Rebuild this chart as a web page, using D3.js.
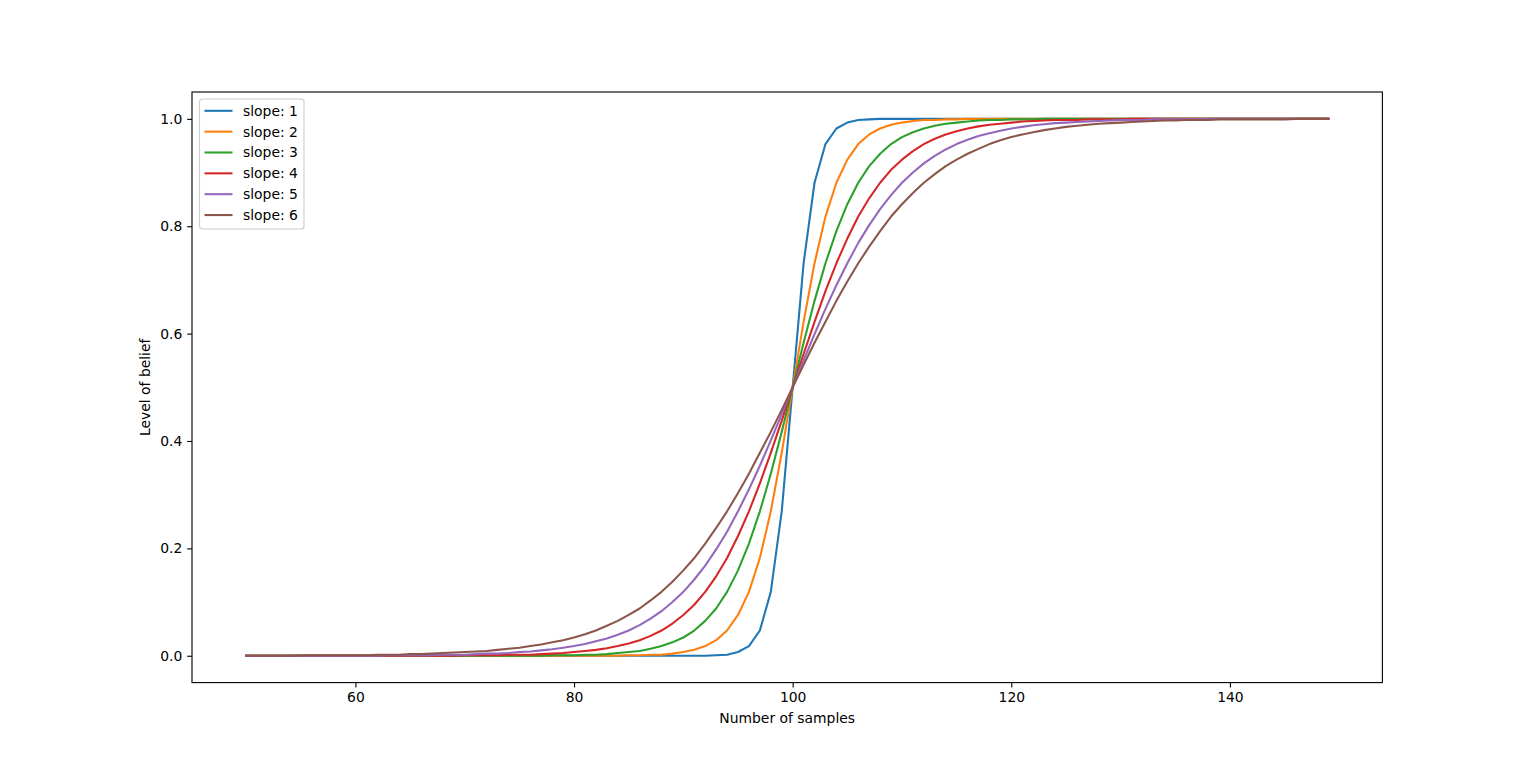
<!DOCTYPE html>
<html>
<head>
<meta charset="utf-8">
<script src="https://cdn.jsdelivr.net/npm/d3@7"></script>
<style>
  body { margin: 0; background: #fff; }
  svg { display: block; font-family: "DejaVu Sans", sans-serif; }
  .tick text { font-size: 13.9px; fill: #000; }
</style>
</head>
<body>
<div id="chart"></div>
<script>
// Number of samples (x)
const samples = [
   50,  51,  52,  53,  54,  55,  56,  57,  58,  59,
   60,  61,  62,  63,  64,  65,  66,  67,  68,  69,
   70,  71,  72,  73,  74,  75,  76,  77,  78,  79,
   80,  81,  82,  83,  84,  85,  86,  87,  88,  89,
   90,  91,  92,  93,  94,  95,  96,  97,  98,  99,
  100, 101, 102, 103, 104, 105, 106, 107, 108, 109,
  110, 111, 112, 113, 114, 115, 116, 117, 118, 119,
  120, 121, 122, 123, 124, 125, 126, 127, 128, 129,
  130, 131, 132, 133, 134, 135, 136, 137, 138, 139,
  140, 141, 142, 143, 144, 145, 146, 147, 148, 149
];

const slopes = ['slope: 1', 'slope: 2', 'slope: 3', 'slope: 4', 'slope: 5', 'slope: 6'];

// Level of belief per slope
const slope1 = [
  0, 0, 0, 0, 0, 0, 0, 0, 0, 0,
  0, 0, 0, 0, 0, 0, 0, 0, 0, 0,
  0, 0, 0, 0, 0, 0, 0, 0, 0, 0,
  0, 0, 0, 0, 0, 0, 0, 0, 0, 0,
  0, 0, 0, .001, .002, .007, .018, .047, .119, .269,
  .5, .731, .881, .953, .982, .993, .998, .999, 1, 1,
  1, 1, 1, 1, 1, 1, 1, 1, 1, 1,
  1, 1, 1, 1, 1, 1, 1, 1, 1, 1,
  1, 1, 1, 1, 1, 1, 1, 1, 1, 1,
  1, 1, 1, 1, 1, 1, 1, 1, 1, 1
];
const slope2 = [
  0, 0, 0, 0, 0, 0, 0, 0, 0, 0,
  0, 0, 0, 0, 0, 0, 0, 0, 0, 0,
  0, 0, 0, 0, 0, 0, 0, 0, 0, 0,
  0, 0, 0, 0, 0, .001, .001, .002, .002, .004,
  .007, .011, .018, .029, .047, .076, .119, .182, .269, .378,
  .5, .622, .731, .818, .881, .924, .953, .971, .982, .989,
  .993, .996, .998, .998, .999, .999, 1, 1, 1, 1,
  1, 1, 1, 1, 1, 1, 1, 1, 1, 1,
  1, 1, 1, 1, 1, 1, 1, 1, 1, 1,
  1, 1, 1, 1, 1, 1, 1, 1, 1, 1
];
const slope3 = [
  0, 0, 0, 0, 0, 0, 0, 0, 0, 0,
  0, 0, 0, 0, 0, 0, 0, 0, 0, 0,
  0, 0, 0, 0, 0, 0, 0, 0, .001, .001,
  .001, .002, .002, .003, .005, .007, .009, .013, .018, .025,
  .034, .047, .065, .088, .119, .159, .209, .269, .339, .417,
  .5, .583, .661, .731, .791, .841, .881, .912, .935, .953,
  .966, .975, .982, .987, .991, .993, .995, .997, .998, .998,
  .999, .999, .999, 1, 1, 1, 1, 1, 1, 1,
  1, 1, 1, 1, 1, 1, 1, 1, 1, 1,
  1, 1, 1, 1, 1, 1, 1, 1, 1, 1
];
const slope4 = [
  0, 0, 0, 0, 0, 0, 0, 0, 0, 0,
  0, 0, 0, 0, 0, 0, 0, 0, 0, 0,
  .001, .001, .001, .001, .002, .002, .002, .003, .004, .005,
  .007, .009, .011, .014, .018, .023, .029, .037, .047, .060,
  .076, .095, .119, .148, .182, .223, .269, .321, .378, .438,
  .5, .562, .622, .679, .731, .777, .818, .852, .881, .905,
  .924, .940, .953, .963, .971, .977, .982, .986, .989, .991,
  .993, .995, .996, .997, .998, .998, .998, .999, .999, .999,
  .999, 1, 1, 1, 1, 1, 1, 1, 1, 1,
  1, 1, 1, 1, 1, 1, 1, 1, 1, 1
];
const slope5 = [
  0, 0, 0, 0, 0, 0, 0, 0, 0, 0,
  0, 0, 0, .001, .001, .001, .001, .001, .002, .002,
  .002, .003, .004, .004, .005, .007, .008, .010, .012, .015,
  .018, .022, .027, .032, .039, .047, .057, .069, .083, .100,
  .119, .142, .168, .198, .231, .269, .310, .354, .401, .450,
  .5, .550, .599, .646, .690, .731, .769, .802, .832, .858,
  .881, .900, .917, .931, .943, .953, .961, .968, .973, .978,
  .982, .985, .988, .990, .992, .993, .994, .995, .996, .997,
  .998, .998, .998, .999, .999, .999, .999, .999, 1, 1,
  1, 1, 1, 1, 1, 1, 1, 1, 1, 1
];
const slope6 = [
  0, 0, 0, 0, 0, .001, .001, .001, .001, .001,
  .001, .001, .002, .002, .002, .003, .003, .004, .005, .006,
  .007, .008, .009, .011, .013, .015, .018, .021, .025, .029,
  .034, .040, .047, .056, .065, .076, .088, .103, .119, .138,
  .159, .182, .209, .238, .269, .303, .339, .378, .417, .458,
  .5, .542, .583, .622, .661, .697, .731, .762, .791, .818,
  .841, .862, .881, .897, .912, .924, .935, .944, .953, .960,
  .966, .971, .975, .979, .982, .985, .987, .989, .991, .992,
  .993, .994, .995, .996, .997, .997, .998, .998, .998, .999,
  .999, .999, .999, .999, .999, .999, 1, 1, 1, 1
];

const xTicks = [60, 80, 100, 120, 140];
const yTicks = [0.0, 0.2, 0.4, 0.6, 0.8, 1.0];

// matplotlib tab10 colours
const colors = ['#1f77b4', '#ff7f0e', '#2ca02c', '#d62728', '#9467bd', '#8c564b'];

const width = 1536, height = 767;
const margin = { top: 92, right: 153.6, bottom: 84.4, left: 192 };
const innerW = width - margin.left - margin.right;
const innerH = height - margin.top - margin.bottom;

const seriesValues = [slope1, slope2, slope3, slope4, slope5, slope6];
const series = seriesValues.map((vals, i) => ({
  name: slopes[i],
  color: colors[i],
  points: vals.map((v, j) => ({ x: samples[j], y: v }))
}));

// 5% padding like matplotlib autoscale
const pad = (ext) => {
  const d = (ext[1] - ext[0]) * 0.05;
  return [ext[0] - d, ext[1] + d];
};
const xExt = d3.extent(samples);
const yExt = d3.extent(seriesValues.flat());

const x = d3.scaleLinear().domain(pad(xExt)).range([0, innerW]);
const y = d3.scaleLinear().domain(pad(yExt)).range([innerH, 0]);

const svg = d3.select('#chart')
  .append('svg')
  .attr('width', width)
  .attr('height', height);

const g = svg.append('g')
  .attr('transform', `translate(${margin.left}, ${margin.top})`);

// Lines
const line = d3.line()
  .x(d => x(d.x))
  .y(d => y(d.y));

g.append('defs').append('clipPath')
  .attr('id', 'clip')
  .append('rect')
  .attr('width', innerW)
  .attr('height', innerH);

g.append('g')
  .attr('clip-path', 'url(#clip)')
  .selectAll('path.series')
  .data(series)
  .enter()
  .append('path')
  .attr('class', 'series')
  .attr('d', d => line(d.points))
  .attr('fill', 'none')
  .attr('stroke', d => d.color)
  .attr('stroke-width', 2.08)
  .attr('stroke-linejoin', 'round')
  .attr('stroke-linecap', 'square');

// Axes
const xAxis = d3.axisBottom(x)
  .tickValues(xTicks)
  .tickSize(4.86)
  .tickPadding(4.86)
  .tickFormat(d3.format('d'));

const yAxis = d3.axisLeft(y)
  .tickValues(yTicks)
  .tickSize(4.86)
  .tickPadding(4.86)
  .tickFormat(d3.format('.1f'));

const gx = g.append('g')
  .attr('transform', `translate(0, ${innerH})`)
  .call(xAxis);
const gy = g.append('g').call(yAxis);

[gx, gy].forEach(ax => {
  ax.select('.domain').remove();
  ax.selectAll('.tick line').attr('stroke', '#000').attr('stroke-width', 1.11);
  ax.selectAll('.tick text').attr('font-family', '"DejaVu Sans", sans-serif');
});

// Frame (all four spines)
g.append('rect')
  .attr('width', innerW)
  .attr('height', innerH)
  .attr('fill', 'none')
  .attr('stroke', '#000')
  .attr('stroke-width', 1.11);

// Axis labels
svg.append('text')
  .attr('x', margin.left + innerW / 2)
  .attr('y', margin.top + innerH + 40)
  .attr('text-anchor', 'middle')
  .attr('font-size', '13.9px')
  .text('Number of samples');

svg.append('text')
  .attr('transform', `translate(${margin.left - 42}, ${margin.top + innerH / 2}) rotate(-90)`)
  .attr('text-anchor', 'middle')
  .attr('font-size', '13.9px')
  .text('Level of belief');

// Legend
const legend = g.append('g')
  .attr('transform', 'translate(7.5, 7)');

legend.append('rect')
  .attr('x', 0)
  .attr('y', 0)
  .attr('width', 104.5)
  .attr('height', 130)
  .attr('rx', 3)
  .attr('fill', '#fff')
  .attr('fill-opacity', 0.8)
  .attr('stroke', '#ccc')
  .attr('stroke-width', 1.11);

const rows = legend.selectAll('g.legend-row')
  .data(series)
  .enter()
  .append('g')
  .attr('class', 'legend-row')
  .attr('transform', (d, i) => `translate(0, ${11.8 + i * 20.85})`);

rows.append('line')
  .attr('x1', 5)
  .attr('x2', 33)
  .attr('stroke', d => d.color)
  .attr('stroke-width', 2.08);

rows.append('text')
  .attr('x', 43.5)
  .attr('dy', '0.35em')
  .attr('font-size', '13.9px')
  .text(d => d.name);
</script>
</body>
</html>
